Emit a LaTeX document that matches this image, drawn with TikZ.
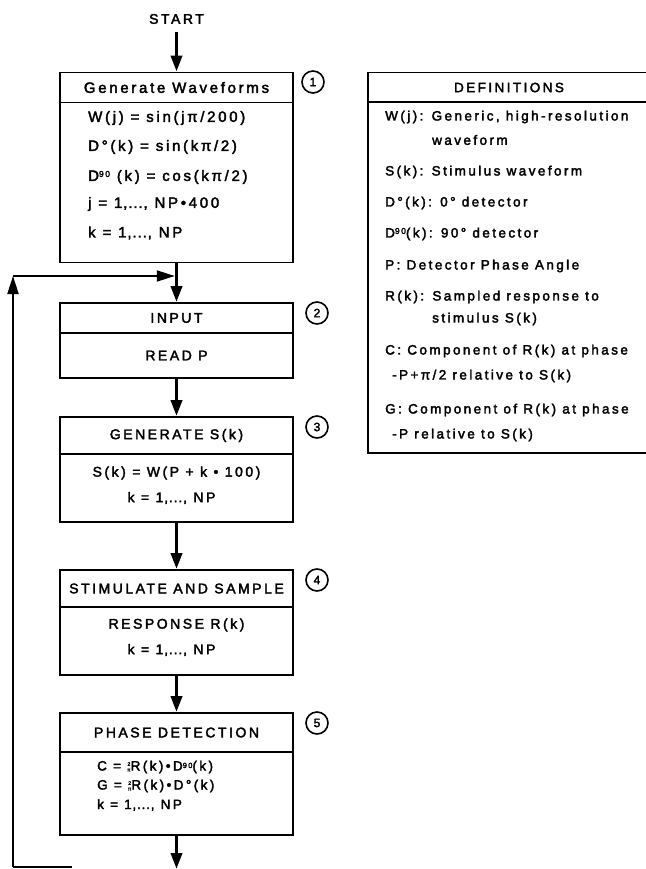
\documentclass[tikz,border=0pt]{standalone}
\usepackage{fontspec}
\setmainfont{Liberation Sans}[LetterSpace=18, FakeBold=2.5]
\usetikzlibrary{arrows.meta}
\newcommand{\smfrac}{\ensuremath{\vcenter{\hbox{\fontsize{5}{4.2}\selectfont\shortstack{2\\π}}}}}
\newcommand{\supr}[1]{\raisebox{0.5ex}{\fontsize{8.5}{8.5}\selectfont #1}}
\newcommand{\supp}[1]{\raisebox{0.35ex}{\fontsize{7.5}{7.5}\selectfont #1}}
\newcommand{\tight}{\addfontfeatures{LetterSpace=6}}
\begin{document}
\begin{tikzpicture}[x=1pt,y=-1pt,
  box/.style={draw, line width=1.8pt, minimum width=233pt, inner sep=0pt, font=\fontsize{14}{15}\selectfont},
  dbox/.style={draw, line width=1.8pt, minimum width=282pt, inner sep=0pt, font=\fontsize{13.5}{15}\selectfont},
  txt/.style={inner sep=0pt, font=\fontsize{14}{15}\selectfont},
  dtxt/.style={inner sep=0pt, anchor=west, font=\fontsize{13.5}{15}\selectfont},
  btxt/.style={inner sep=0pt, anchor=west, font=\fontsize{15}{16}\selectfont},
  ptxt/.style={inner sep=0pt, anchor=west, font=\fontsize{13.5}{14}\selectfont},
  flow/.style={line width=3.5pt, -{Triangle[length=16pt,width=11pt]}},
  fb/.style={line width=2pt, -{Triangle[length=18pt,width=11pt]}},
  num/.style={circle, draw, line width=1.6pt, minimum size=22pt, inner sep=0pt, font=\fontsize{12}{12}\selectfont}
]
\useasboundingbox (0,0) rectangle (645,869);

% START
\node[txt] (start) at (176.5,19) {START};

% box 1
\node[box, minimum height=30pt, font=\fontsize{15}{16}\selectfont] (b1h) at (176.5,87.5) {Generate Waveforms};
\node[box, minimum height=160pt] (b1b) at (176.5,182.5) {};
\node[btxt] (t11) at (88,118) {W(j) = sin(jπ/200)};
\node[btxt] (t12) at (88,147) {D°(k) = sin(kπ/2)};
\node[btxt] (t13) at (88,177) {D\supr{90} (k) = cos(kπ/2)};
\node[btxt] (t14) at (88,204) {j = {\tight 1,...,} NP•400};
\node[btxt] (t15) at (88,233) {k = {\tight 1,...,} NP};
\node[num] (n1) at (313,82) {1};

% box 2
\node[box, minimum height=30pt] (b2h) at (176.5,318) {INPUT};
\node[box, minimum height=45pt] (b2b) at (176.5,355.5) {READ P};
\node[num] (n2) at (317,313) {2};

% box 3
\node[box, minimum height=37pt] (b3h) at (176.5,435.5) {GENERATE S(k)};
\node[box, minimum height=68pt] (b3b) at (176.5,488) {};
\node[txt] (t31) at (176.5,473) {S(k) = W(P + k • 100)};
\node[txt] (t32) at (171.5,498) {k = {\tight 1,...,} NP};
\node[num] (n3) at (317,427) {3};

% box 4
\node[box, minimum height=37pt] (b4h) at (176.5,588.5) {STIMULATE AND SAMPLE};
\node[box, minimum height=68pt] (b4b) at (176.5,641) {};
\node[txt] (t41) at (176.5,625) {RESPONSE R(k)};
\node[txt] (t42) at (171.5,650) {k = {\tight 1,...,} NP};
\node[num] (n4) at (317,580) {4};

% box 5
\node[box, minimum height=39pt] (b5h) at (176.5,732.5) {PHASE DETECTION};
\node[box, minimum height=83pt] (b5b) at (176.5,793.5) {};
\node[ptxt] (t51) at (97,767) {C = \smfrac R(k)•D\supp{90}(k)};
\node[ptxt] (t52) at (97,786) {G = \smfrac R(k)•D°(k)};
\node[ptxt] (t53) at (97,805) {k = {\tight 1,...,} NP};
\node[num] (n5) at (317,723) {5};

% definitions
\node[dbox, minimum height=30pt] (dh) at (509,87.5) {DEFINITIONS};
\node[dbox, minimum height=351pt] (db) at (509,277.5) {};
\node[dtxt] (d1) at (385,117) {W(j): Generic, high-resolution};
\node[dtxt] (d1b) at (432,140) {waveform};
\node[dtxt] (d2) at (385,172) {S(k): Stimulus waveform};
\node[dtxt] (d3) at (385,203) {D°(k): 0° detector};
\node[dtxt] (d4) at (385,234) {D\supr{90}(k): 90° detector};
\node[dtxt] (d5) at (385,266) {P: Detector Phase Angle};
\node[dtxt] (d6) at (385,297) {R(k): Sampled response to};
\node[dtxt] (d6b) at (432,319) {stimulus S(k)};
\node[dtxt] (d7) at (385,351) {C: Component of R(k) at phase};
\node[dtxt] (d7b) at (392,376) {-P+π/2 relative to S(k)};
\node[dtxt] (d8) at (385,410) {G: Component of R(k) at phase};
\node[dtxt] (d8b) at (392,435) {-P relative to S(k)};

% flow arrows
\draw[flow] ([yshift=-8pt]start.south) -- (b1h.north);
\draw[flow] (b1b.south) -- (b2h.north);
\draw[flow] (b2b.south) -- (b3h.north);
\draw[flow] (b3b.south) -- (b4h.north);
\draw[flow] (b4b.south) -- (b5h.north);
\coordinate (out) at (176.5,869);
\draw[flow] (b5b.south) -- (out);

% feedback loop
\coordinate (fbA) at (72,867);
\coordinate (fbB) at (13,867);
\coordinate (fbC) at (13,276);
\coordinate (join) at ([xshift=-1.75pt]b1b.south |- fbC);
\draw[line width=2pt] (fbA) -- (fbB);
\draw[fb] (fbB) -- (fbC);
\draw[fb] (fbC) -- (join);
\end{tikzpicture}
\end{document}
